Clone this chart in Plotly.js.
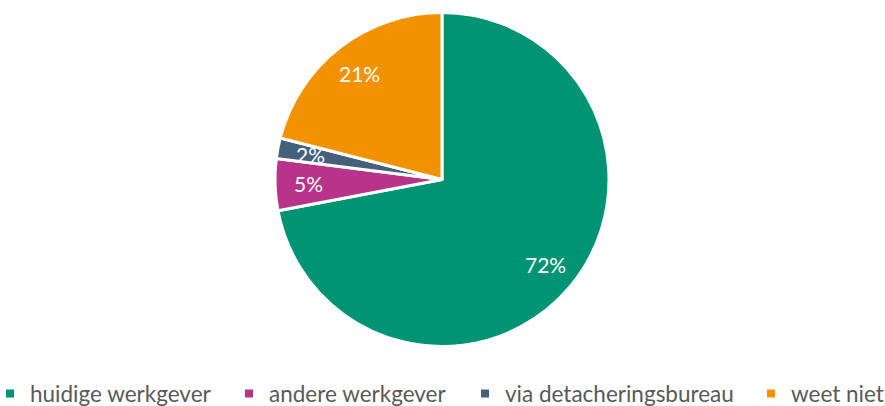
<!DOCTYPE html>
<html><head><meta charset="utf-8">
<script src="https://cdn.plot.ly/plotly-3.0.1.min.js"></script>
<style>html,body{margin:0;padding:0;background:#fff;}#chart{width:885px;height:406px;}</style>
</head><body><div id="chart"></div>
<script>
const categories = ["huidige werkgever", "andere werkgever", "via detacheringsbureau", "weet niet"];
const values = [72, 5, 2, 21];
const colors = ["#009474", "#B8338A", "#44607A", "#F39200"];

const W = 885, H = 406, cx = 442, cy = 179.5, R = 167;
const pie = {
  type: "pie",
  labels: categories,
  values: values,
  sort: false,
  direction: "clockwise",
  rotation: 0,
  marker: {colors: colors, line: {color: "#ffffff", width: 3}},
  textinfo: "none",
  hoverinfo: "label+percent",
  showlegend: false,
  domain: {x: [(cx - R) / W, (cx + R) / W], y: [1 - (cy + R) / H, 1 - (cy - R) / H]}
};

// percentage labels placed along each slice's bisector (computed from the values)
const total = values.reduce((a, b) => a + b, 0);
const annotations = [];
let acc = 0;
values.forEach((v) => {
  const mid = (acc + v / 2) / total * 2 * Math.PI;
  acc += v;
  const r = 0.81 * 165.5;
  annotations.push({
    xref: "paper", yref: "paper",
    x: (cx + r * Math.sin(mid)) / W, y: 1 - (cy - r * Math.cos(mid)) / H,
    xanchor: "center", yanchor: "middle", showarrow: false,
    text: Math.round(v / total * 100) + "%",
    font: {family: "Lato, sans-serif", size: 21, color: "#ffffff"}
  });
});

// legend: one entry per category, each in its own legend box
const legendLeft = [-10, 229, 465, 751];
const legendKeys = ["legend", "legend2", "legend3", "legend4"];
const traces = [pie];
const layout = {
  width: W, height: H,
  margin: {l: 0, r: 0, t: 0, b: 0, autoexpand: false},
  paper_bgcolor: "#ffffff", plot_bgcolor: "#ffffff",
  showlegend: true,
  annotations: annotations,
  xaxis: {visible: false, showgrid: false, zeroline: false},
  yaxis: {visible: false, showgrid: false, zeroline: false}
};
categories.forEach((c, i) => {
  traces.push({
    type: "scatter", mode: "markers", x: [null], y: [null], name: c,
    legend: legendKeys[i], hoverinfo: "skip",
    marker: {symbol: "square", size: 8, color: colors[i]}
  });
  layout[legendKeys[i]] = {
    orientation: "h", x: legendLeft[i] / W, xanchor: "left", y: 0.083, yanchor: "top",
    font: {family: "Lato, sans-serif", size: 22.5, color: "#595959"},
    bgcolor: "rgba(0,0,0,0)", itemwidth: 30
  };
});
Plotly.newPlot("chart", traces, layout, {staticPlot: true});
</script></body></html>
